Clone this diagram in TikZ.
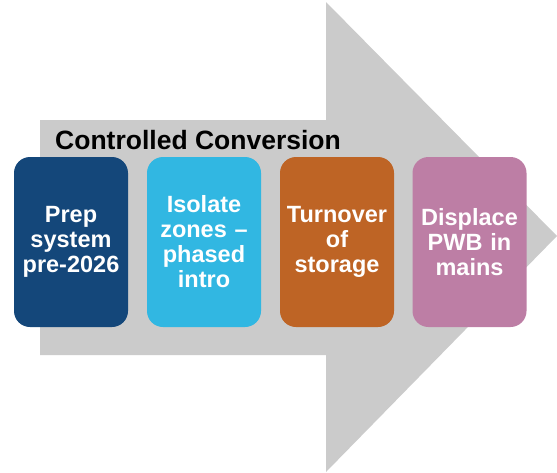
\documentclass[tikz,border=0pt]{standalone}
\usepackage{fontspec}
\setmainfont{Liberation Sans}
\definecolor{arrowgray}{HTML}{CBCBCB}
\definecolor{cblue}{HTML}{14477A}
\definecolor{ccyan}{HTML}{31B7E2}
\definecolor{corange}{HTML}{BE6425}
\definecolor{cmauve}{HTML}{BD7EA5}
\begin{document}
\begin{tikzpicture}[x=1pt,y=-1pt,
  stepbox/.style={rounded corners=16pt, minimum width=114pt, minimum height=170pt,
    inner sep=0pt, text=white, align=center,
    font=\fontsize{23.5}{25}\selectfont\bfseries, text width=112pt}]
\useasboundingbox (0,0) rectangle (557,472);
\fill[arrowgray] (40,120) -- (326,120) -- (326,2) -- (557,236) -- (326,472) -- (326,355) -- (40,355) -- cycle;
\node[anchor=base west, inner sep=0pt, font=\fontsize{26.5}{30}\selectfont\bfseries] (title) at (55,149) {Controlled Conversion};
\node[stepbox, fill=cblue] (s1) at (71,242) {Prep\\system\\pre-2026};
\node[stepbox, fill=ccyan] (s2) at (204,242) {Isolate\\zones --\\phased\\intro};
\node[stepbox, fill=corange] (s3) at (337,242) {Turnover\\of\\storage};
\node[stepbox, fill=cmauve] (s4) at (469.5,242) {Displace\\PWB in\\mains};
\end{tikzpicture}
\end{document}
